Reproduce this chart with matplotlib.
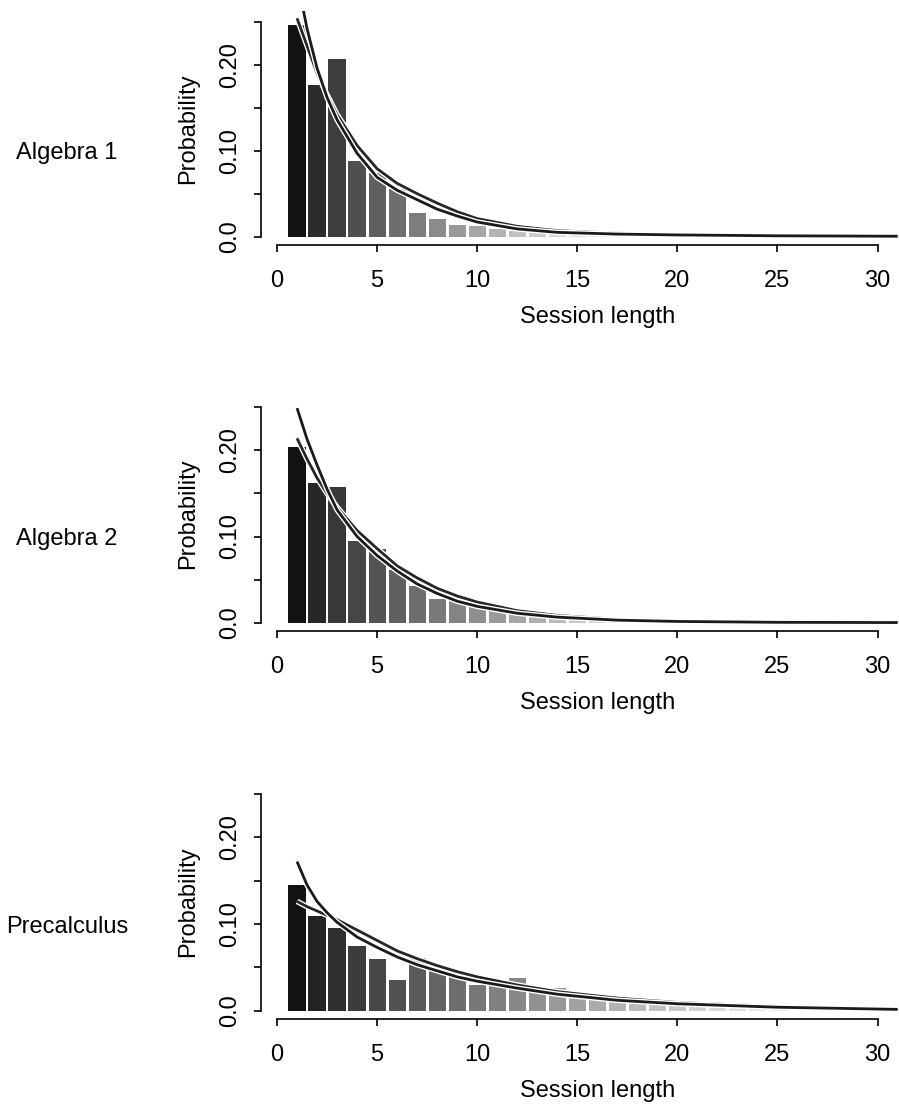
import matplotlib
matplotlib.use("Agg")
import matplotlib.pyplot as plt
import matplotlib.patheffects as pe
import matplotlib.transforms as mtransforms

plt.rcParams['font.family'] = ['Liberation Sans', 'DejaVu Sans']

# ---------------- data ----------------
courses = ["Algebra 1", "Algebra 2", "Precalculus"]

session_lengths_1 = list(range(1, 21))
prob_alg1 = [0.246, 0.176, 0.207, 0.088, 0.074, 0.055, 0.027, 0.020, 0.014, 0.012,
             0.009, 0.007, 0.005, 0.004, 0.003, 0.002, 0.002, 0.001, 0.001, 0.001]

session_lengths_2 = list(range(1, 21))
prob_alg2 = [0.204, 0.162, 0.157, 0.095, 0.086, 0.061, 0.043, 0.028, 0.026, 0.020,
             0.015, 0.011, 0.009, 0.007, 0.005, 0.004, 0.003, 0.002, 0.002, 0.001]

session_lengths_3 = list(range(1, 26))
prob_precalc = [0.145, 0.109, 0.095, 0.075, 0.060, 0.035, 0.061, 0.047, 0.046, 0.030,
                0.028, 0.038, 0.022, 0.026, 0.020, 0.018, 0.010, 0.009, 0.008, 0.007,
                0.006, 0.005, 0.004, 0.003, 0.003]

# fitted curves
fit_x = [1, 1.5, 2, 2.5, 3, 4, 5, 6, 7, 8, 9, 10, 12, 14, 17, 20, 25, 31]
fit_a_alg1 = [0.300, 0.242, 0.196, 0.162, 0.136, 0.097, 0.069, 0.054, 0.043, 0.032,
              0.024, 0.017, 0.009, 0.005, 0.003, 0.002, 0.001, 0.0005]
fit_b_alg1 = [0.254, 0.222, 0.190, 0.165, 0.142, 0.106, 0.079, 0.062, 0.050, 0.039,
              0.029, 0.021, 0.012, 0.007, 0.004, 0.0025, 0.0012, 0.0005]
fit_a_alg2 = [0.249, 0.213, 0.183, 0.155, 0.131, 0.100, 0.078, 0.060, 0.045, 0.034,
              0.025, 0.019, 0.011, 0.0065, 0.003, 0.0015, 0.0005, 0.0002]
fit_b_alg2 = [0.214, 0.190, 0.168, 0.150, 0.134, 0.107, 0.086, 0.066, 0.052, 0.040,
              0.031, 0.024, 0.014, 0.0085, 0.004, 0.002, 0.0008, 0.0003]
fit_a_pre = [0.172, 0.145, 0.126, 0.113, 0.102, 0.085, 0.073, 0.062, 0.053, 0.046,
             0.039, 0.034, 0.026, 0.019, 0.012, 0.008, 0.004, 0.0015]
fit_b_pre = [0.126, 0.120, 0.115, 0.110, 0.105, 0.093, 0.081, 0.069, 0.060, 0.052,
             0.045, 0.039, 0.0296, 0.022, 0.0145, 0.0095, 0.005, 0.0018]

y_ticks = [0.0, 0.05, 0.10, 0.15, 0.20, 0.25]
y_tick_labels = ["0.0", "", "0.10", "", "0.20", ""]
x_ticks = [0, 5, 10, 15, 20, 25, 30]
x_tick_labels = ["0", "5", "10", "15", "20", "25", "30"]

# ---------------- layout ----------------
W, H = 899, 1110
fig = plt.figure(figsize=(W / 100, H / 100), dpi=100)

# (top px, bottom px) of each plot region
panel_px = [(11.4, 245.0), (396.9, 631.1), (783.5, 1019.1)]
left_px, right_px = 261.0, 899.0
grad_len = [14, 17, 22]

panels = [
    (session_lengths_1, prob_alg1, fit_a_alg1, fit_b_alg1),
    (session_lengths_2, prob_alg2, fit_a_alg2, fit_b_alg2),
    (session_lengths_3, prob_precalc, fit_a_pre, fit_b_pre),
]

FS = 17
halo = [pe.Stroke(linewidth=4.0, foreground="white"), pe.Normal()]

for k, (course, (xs, ps, fa, fb)) in enumerate(zip(courses, panels)):
    top, bot = panel_px[k]
    ax = fig.add_axes([left_px / W, 1 - bot / H, (right_px - left_px) / W, (bot - top) / H])
    ax.set_xlim(-0.8, 31.07)
    ax.set_ylim(-0.0097, 0.262)

    n = grad_len[k]
    colors = []
    for i in range(len(xs)):
        g = min(0.07 + 0.78 * (i / (n - 1)) ** 0.8, 0.9)
        colors.append((g, g, g))
    ax.bar(xs, ps, width=0.86, color=colors, edgecolor="none", zorder=2)

    ax.plot(fit_x, fb, color="#262626", lw=2.0, zorder=3, path_effects=halo,
            solid_capstyle="butt")
    ax.plot(fit_x, fa, color="#1a1a1a", lw=2.0, zorder=4, path_effects=halo,
            solid_capstyle="butt")

    for s in ["top", "right"]:
        ax.spines[s].set_visible(False)
    ax.spines["left"].set_bounds(0, 0.25)
    ax.spines["bottom"].set_bounds(0, 30)
    ax.spines["left"].set_linewidth(1.2)
    ax.spines["bottom"].set_linewidth(1.2)

    ax.set_yticks(y_ticks)
    ax.set_yticklabels(y_tick_labels)
    ax.set_xticks(x_ticks)
    ax.set_xticklabels(x_tick_labels)
    ax.tick_params(axis="y", direction="out", length=5, width=1.2, pad=17, labelsize=FS)
    ax.tick_params(axis="x", direction="out", length=5, width=1.2, pad=21, labelsize=FS)
    for lab in ax.get_yticklabels():
        lab.set_rotation(90)
        lab.set_ha("center")
        lab.set_va("center")
    for lab in ax.get_xticklabels():
        lab.set_va("center")

    ax.set_xlabel("Session length", fontsize=FS)
    ax.xaxis.set_label_coords((598 - left_px) / (right_px - left_px), -72 / (bot - top))
    ax.xaxis.label.set_va("center")

    ax.set_ylabel("Probability", fontsize=FS)
    ax.yaxis.set_label_coords((188 - left_px) / (right_px - left_px), 0.5)
    ax.yaxis.label.set_va("center")

    tr = mtransforms.blended_transform_factory(fig.transFigure, ax.transData)
    fig.text(67 / W, 0.097, course, transform=tr, ha="center", va="center", fontsize=FS)

fig.savefig("out.png", dpi=100, facecolor="white")
